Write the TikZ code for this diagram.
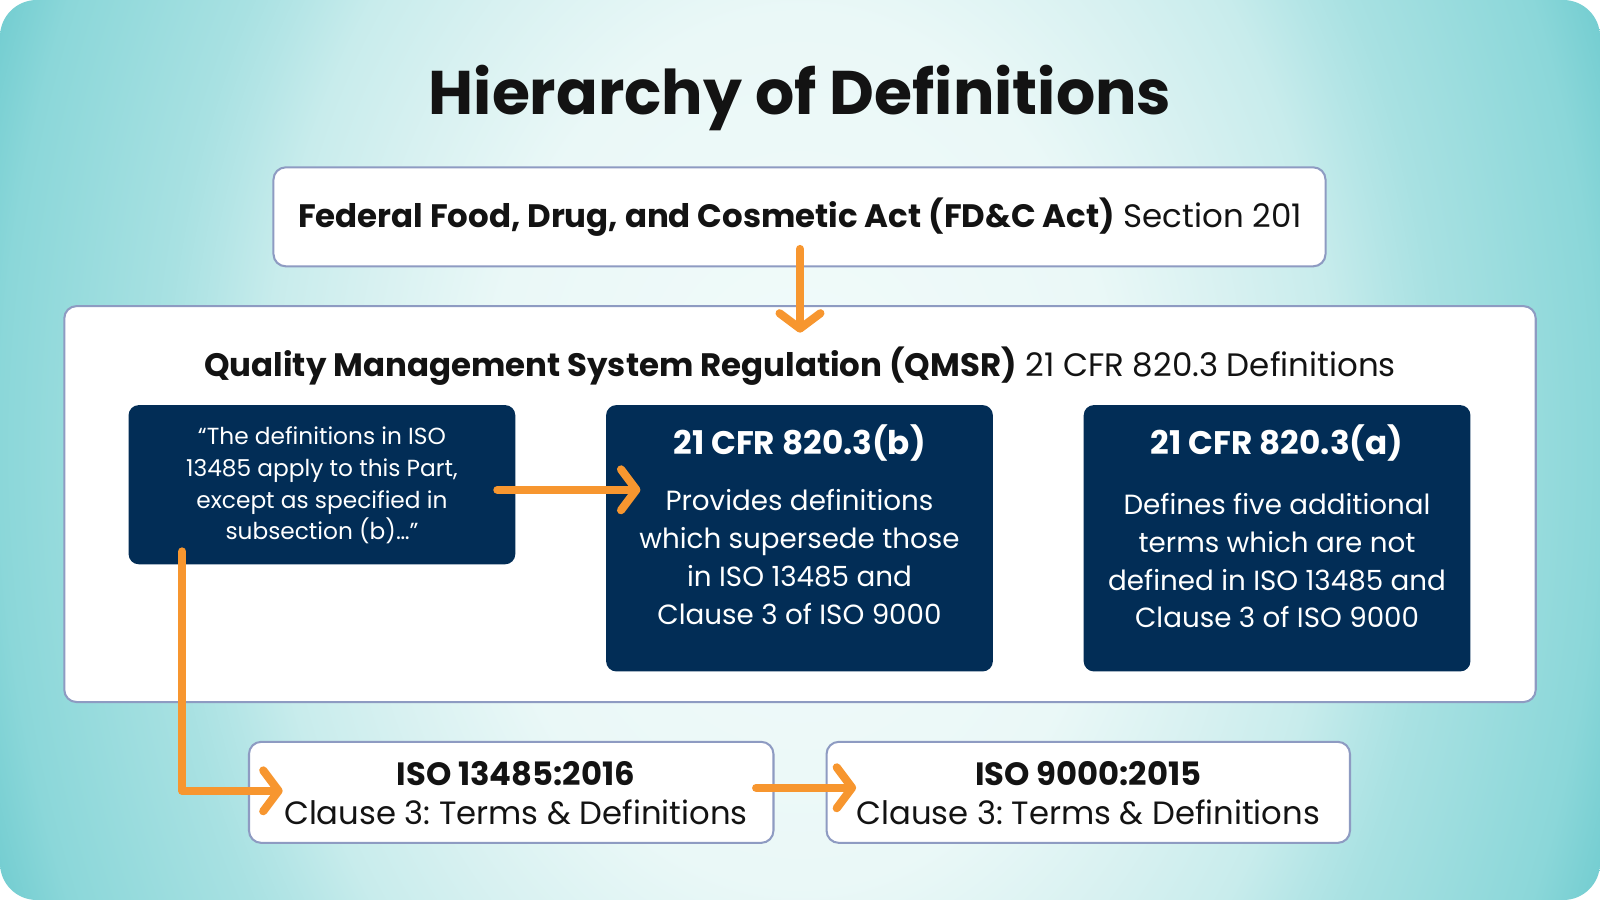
\documentclass[tikz,border=0pt]{standalone}
\usepackage{fontspec}
\setmainfont{Poppins}
\frenchspacing
\usetikzlibrary{arrows.meta,calc}
\definecolor{navy}{HTML}{022D56}
\definecolor{orng}{HTML}{F7962F}
\definecolor{bord}{HTML}{8E9BC2}
\definecolor{ink}{HTML}{131313}
\definecolor{bgA}{HTML}{F2FBFB}
\definecolor{bgB}{HTML}{EAF8F7}
\definecolor{bgC}{HTML}{D8F1F1}
\definecolor{bgD}{HTML}{C8ECEC}
\definecolor{bgE}{HTML}{B4E5E6}
\definecolor{bgF}{HTML}{A8E1E2}
\definecolor{bgG}{HTML}{8BD7D9}
\definecolor{bgH}{HTML}{6CCACE}
\pgfdeclareradialshading{bgshade}{\pgfpoint{0bp}{0bp}}{color(0bp)=(bgA); color(9bp)=(bgB); color(12.5bp)=(bgC); color(15.25bp)=(bgD); color(17bp)=(bgE); color(18.2bp)=(bgF); color(22.75bp)=(bgG); color(25bp)=(bgH); color(50bp)=(bgH)}
\tikzset{
  whitebox/.style={draw=bord, line width=1pt, fill=white, rounded corners=6pt, inner sep=0pt},
  navybox/.style={fill=navy, rounded corners=5pt, inner sep=0pt},
  conn/.style={draw=orng, line width=4pt, line cap=round, line join=round,
    -{Straight Barb[length=7.5pt, width=20pt, line cap=round, line join=round]}},
  darktxt/.style={text=ink, inner sep=0pt},
  lighttxt/.style={text=white, inner sep=0pt, align=center},
}
\begin{document}
\begin{tikzpicture}[x=0.5pt,y=-0.5pt]
\useasboundingbox (0,0) rectangle (1568,882);
\fill[white] (0,0) rectangle (1568,882);
\begin{scope}
\clip[rounded corners=18pt] (0,0) rectangle (1568,882);
\shade[shading=bgshade] (784,441) ellipse [x radius=431pt, y radius=593pt];
\end{scope}

\node[darktxt, anchor=base, font=\fontsize{30.2}{36}\selectfont\bfseries] (title) at (784,112) {Hierarchy of Definitions};

\node[whitebox, minimum width=515.5pt, minimum height=48.5pt] (fdc) at (783.5,212.5) {};
\node[darktxt, anchor=base, font=\fontsize{15.9}{19}\selectfont] (fdct) at (784,223) {\textbf{Federal Food, Drug, and Cosmetic Act (FD\&C Act)} Section 201};

\node[whitebox, minimum width=721pt, minimum height=194pt] (qmsr) at (784,494) {};
\node[darktxt, anchor=base, font=\fontsize{15.9}{19}\selectfont] (qmsrt) at (784,369) {\textbf{Quality Management System Regulation (QMSR)} 21 CFR 820.3 Definitions};

\node[navybox, minimum width=189.5pt, minimum height=78pt] (q1) at (315.5,475) {};
\node[lighttxt, font=\fontsize{11.4}{15.5}\selectfont] (q1t) at (315.5,476) {“The definitions in ISO\\13485 apply to this Part,\\except as specified in\\subsection (b)…”};

\node[navybox, minimum width=189.5pt, minimum height=130.5pt] (q2) at (783.5,527.5) {};
\node[lighttxt, font=\fontsize{16}{20}\selectfont\bfseries] (q2h) at (783.5,434) {21 CFR 820.3(b)};
\node[lighttxt, font=\fontsize{13.6}{18.5}\selectfont] (q2t) at (783.5,546) {Provides definitions\\which supersede those\\in ISO 13485 and\\Clause 3 of ISO 9000};

\node[navybox, minimum width=189.5pt, minimum height=130.5pt] (q3) at (1251.5,527.5) {};
\node[lighttxt, font=\fontsize{16}{20}\selectfont\bfseries] (q3h) at (1251.5,434) {21 CFR 820.3(a)};
\node[lighttxt, font=\fontsize{13.6}{18.5}\selectfont] (q3t) at (1251.5,549.5) {Defines five additional\\terms which are not\\defined in ISO 13485 and\\Clause 3 of ISO 9000};

\node[whitebox, minimum width=257pt, minimum height=49.5pt] (iso1) at (501,776.5) {};
\node[darktxt, align=center, font=\fontsize{15.8}{19}\selectfont] (iso1t) at (505.5,777) {\textbf{ISO 13485:2016}\\Clause 3: Terms \& Definitions};

\node[whitebox, minimum width=256.5pt, minimum height=49.5pt] (iso2) at (1066.5,776.5) {};
\node[darktxt, align=center, font=\fontsize{15.8}{19}\selectfont] (iso2t) at (1066.5,777) {\textbf{ISO 9000:2015}\\Clause 3: Terms \& Definitions};

\coordinate (a1s) at ($(fdc.south)+(0.5,-18)$);
\coordinate (a1e) at ($(qmsr.north)+(0,27)$);
\draw[conn] (a1s) -- (a1e);

\coordinate (a2s) at ($(q1.east)+(-18,5)$);
\coordinate (a2e) at ($(q2.west)+(34,-47.5)$);
\draw[conn] (a2s) -- (a2e);

\coordinate (a3s) at ($(q1.south west)+(53,-13)$);
\coordinate (a3e) at ($(iso1.west)+(34,-1.5)$);
\draw[conn] (a3s) |- (a3e);

\coordinate (a4s) at ($(iso1.east)+(-18,-4.5)$);
\coordinate (a4e) at ($(iso2.west)+(30,-4.5)$);
\draw[conn] (a4s) -- (a4e);
\end{tikzpicture}
\end{document}
